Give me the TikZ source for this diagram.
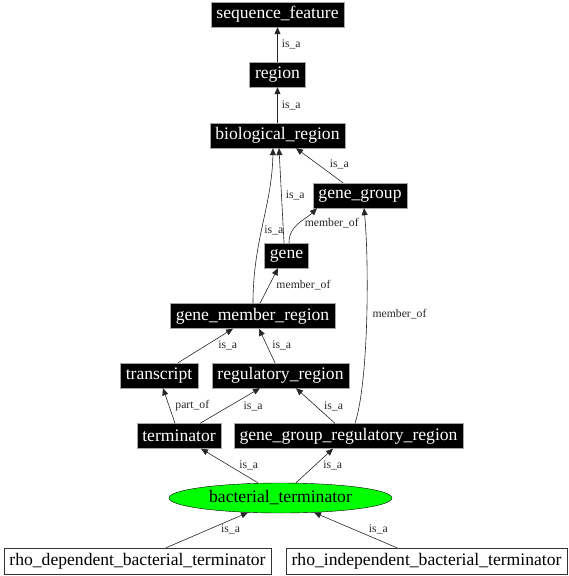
\documentclass[tikz,border=0pt]{standalone}
\usepackage{fontspec}
\setmainfont{Liberation Serif}
\usetikzlibrary{arrows.meta,shapes.geometric}

\begin{document}
\begin{tikzpicture}[x=1pt,y=1pt,
  term/.style={rectangle,fill=black,draw=gray!70,text=white,minimum height=25pt,
               inner xsep=5.5pt,inner ysep=0pt,font=\fontsize{17.6}{20}\selectfont},
  leaf/.style={rectangle,fill=white,draw=black!80,text=black,minimum height=26pt,
               inner xsep=5.5pt,inner ysep=0pt,font=\fontsize{17.6}{20}\selectfont},
  focus/.style={ellipse,fill=green,draw=black,minimum width=223pt,minimum height=30pt,
                inner sep=0pt,font=\fontsize{17.6}{20}\selectfont},
  rel/.style={-{Triangle[length=7pt,width=6pt]},black!85,line width=0.6pt},
  lbl/.style={font=\fontsize{11.7}{13}\selectfont,inner sep=1pt,anchor=west}]
\useasboundingbox (0,0) rectangle (568,-576);

\node[term] (sf) at (277.5,-14.5) {sequence\_feature};
\node[term] (region) at (277.5,-74.5) {region};
\node[term] (bioreg) at (277.5,-135.5) {biological\_region};
\node[term] (genegroup) at (360,-195.5) {gene\_group};
\node[term] (gene) at (286.5,-255.5) {gene};
\node[term] (gmr) at (252.5,-316) {gene\_member\_region};
\node[term] (transcript) at (159,-375.5) {transcript};
\node[term] (regreg) at (280.5,-375.5) {regulatory\_region};
\node[term] (termin) at (179,-436) {terminator};
\node[term] (ggrr) at (348.5,-436) {gene\_group\_regulatory\_region};
\node[focus] (bterm) at (280.5,-498) {bacterial\_terminator};
\node[leaf] (rhodep) at (137.5,-561) {rho\_dependent\_bacterial\_terminator};
\node[leaf] (rhoind) at (426.5,-561) {rho\_independent\_bacterial\_terminator};

\draw[rel] (region)--node[lbl,right=3pt]{is\_a}(sf);
\draw[rel] (bioreg)--node[lbl,right=3pt]{is\_a}(region);
\draw[rel] ([xshift=-17pt]genegroup.north)--node[lbl,pos=.54,right=11pt]{is\_a}([xshift=18.5pt]bioreg.south);
\draw[rel] ([xshift=-2.5pt]gene.north)--node[lbl,pos=.5,right=3pt]{is\_a}([xshift=1.5pt]bioreg.south);
\draw[rel] ([xshift=.5pt]gmr.north) .. controls (253,-240) and (272,-206) ..
  ([xshift=-4.5pt]bioreg.south) node[lbl,pos=.45,right=2pt]{is\_a};
\draw[rel] ([xshift=2.5pt]gene.north) .. controls (289,-225) and (305,-220) ..
  ([xshift=-43pt]genegroup.south) node[lbl,pos=.5,right=5pt]{member\_of};
\draw[rel] ([xshift=7.5pt]gmr.north)--node[lbl,pos=.51,right=6pt]{member\_of}([xshift=-8.5pt]gene.south);
\draw[rel] ([xshift=6.5pt]ggrr.north) .. controls (369,-380) and (369,-260) ..
  ([xshift=4pt]genegroup.south) node[lbl,pos=.52,right=4.5pt]{member\_of};
\draw[rel] ([xshift=19pt]transcript.north)--node[lbl,pos=.5,right=11.5pt]{is\_a}([xshift=-19.5pt]gmr.south);
\draw[rel] ([xshift=-5.5pt]regreg.north)--node[lbl,pos=.5,right=4pt]{is\_a}([xshift=6.5pt]gmr.south);
\draw[rel] ([xshift=-4pt]termin.north)--node[lbl,pos=.49,right=5pt]{part\_of}([xshift=4pt]transcript.south);
\draw[rel] ([xshift=21pt]termin.north)--node[lbl,pos=.49,right=13pt]{is\_a}([xshift=-20.5pt]regreg.south);
\draw[rel] ([xshift=-13.5pt]ggrr.north)--node[lbl,pos=.49,right=7pt]{is\_a}([xshift=15.5pt]regreg.south);
\draw[rel] ([xshift=-22.5pt]bterm.north)--node[lbl,pos=.5,right=8.5pt]{is\_a}([xshift=22pt]termin.south);
\draw[rel] ([xshift=15.5pt]bterm.north)--node[lbl,pos=.5,right=7.5pt]{is\_a}([xshift=-15.5pt]ggrr.south);
\draw[rel] ([xshift=28.5pt]rhodep.north)--node[lbl,pos=.51,right=12pt]{is\_a}([xshift=-32.5pt,yshift=.7pt]bterm.south);
\draw[rel] ([xshift=-29.5pt]rhoind.north)--node[lbl,pos=.51,right=13pt]{is\_a}([xshift=33.5pt,yshift=.7pt]bterm.south);
\end{tikzpicture}
\end{document}
